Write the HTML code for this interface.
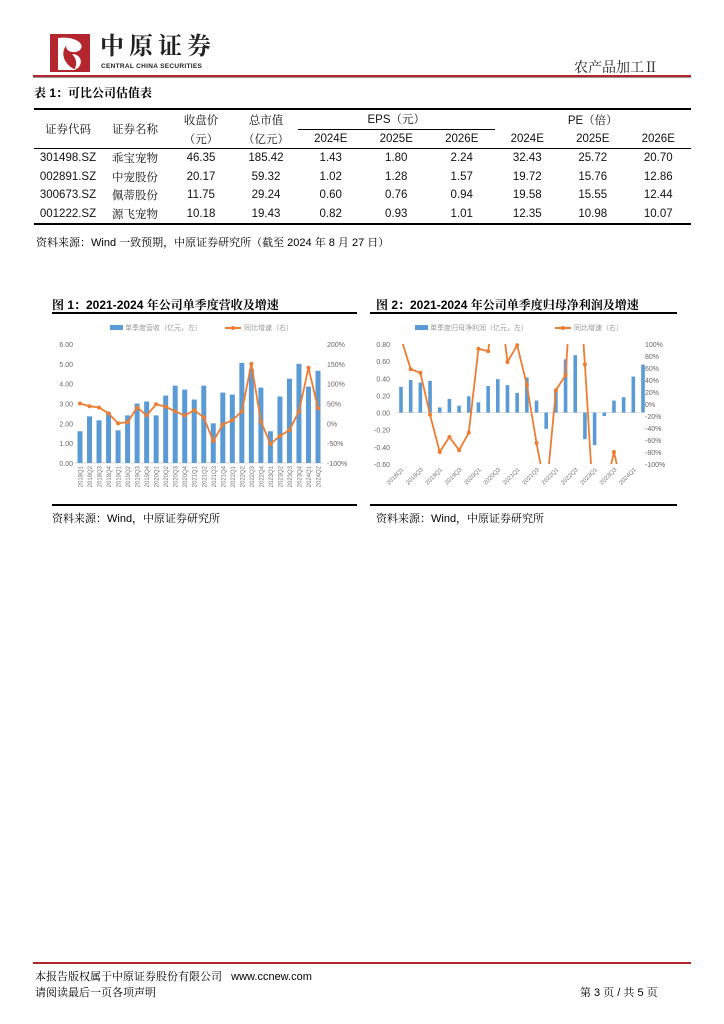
<!DOCTYPE html>
<html><head><meta charset="utf-8">
<style>
body{margin:0;background:#fff;font-family:"Liberation Sans","Noto Serif CJK SC","Noto Sans CJK SC",sans-serif;}
#page{position:relative;width:724px;height:1024px;overflow:hidden;background:#fff;}
.a{position:absolute;white-space:nowrap;}
.cjk{font-family:"Liberation Sans","Noto Serif CJK SC",serif;}
table{border-collapse:collapse;}
td{font-size:11.5px;color:#111;text-align:center;padding:0;height:18.5px;}
</style></head><body>
<div id="page">
<svg class="a" style="left:50px;top:34px" width="40" height="38">
<rect x="0" y="0" width="40" height="38" fill="#b3262e"/>
<path d="M8 4 C25 2 36 10 30 16 C22 22 12 14 18 10 C10 16 12 30 26 36 L8 36 Z" fill="#fff"/>
<path d="M22 20 C30 20 34 28 28 34 L24 36 C28 30 26 24 22 20Z" fill="#fff"/>
</svg>
<div class="a cjk" style="left:100px;top:33px;font-size:24px;font-weight:bold;letter-spacing:5px;color:#222;line-height:28px">中原证券</div>
<div class="a" style="left:101px;top:63px;font-size:6.5px;font-weight:bold;color:#222;letter-spacing:0.3px">CENTRAL CHINA SECURITIES</div>
<div class="a cjk" style="left:574px;top:57px;font-size:14px;color:#222">农产品加工Ⅱ</div>
<div class="a" style="left:33px;top:75px;width:658px;height:2px;background:#b3262e"></div>
<div class="a" style="left:33px;top:77px;width:658px;height:1px;background:#999"></div>

<div class="a cjk" style="left:34px;top:84px;font-size:12px;font-weight:bold">表 1：可比公司估值表</div>
<table class="a" style="left:34px;top:108px;width:657px;border-top:2px solid #000;border-bottom:2px solid #000">
<tr><td rowspan="2" class="cjk" style="width:68px">证券代码</td><td rowspan="2" class="cjk" style="width:66px">证券名称</td><td class="cjk" style="width:66px">收盘价</td><td class="cjk" style="width:64px">总市值</td><td colspan="3" style="border-bottom:1px solid #000">EPS（元）</td><td colspan="3">PE（倍）</td></tr>
<tr style="border-bottom:1px solid #000"><td class="cjk">（元）</td><td class="cjk">（亿元）</td><td>2024E</td><td>2025E</td><td>2026E</td><td>2024E</td><td>2025E</td><td>2026E</td></tr>
<tr><td>301498.SZ</td><td class="cjk">乖宝宠物</td><td>46.35</td><td>185.42</td><td>1.43</td><td>1.80</td><td>2.24</td><td>32.43</td><td>25.72</td><td>20.70</td></tr>
<tr><td>002891.SZ</td><td class="cjk">中宠股份</td><td>20.17</td><td>59.32</td><td>1.02</td><td>1.28</td><td>1.57</td><td>19.72</td><td>15.76</td><td>12.86</td></tr>
<tr><td>300673.SZ</td><td class="cjk">佩蒂股份</td><td>11.75</td><td>29.24</td><td>0.60</td><td>0.76</td><td>0.94</td><td>19.58</td><td>15.55</td><td>12.44</td></tr>
<tr><td>001222.SZ</td><td class="cjk">源飞宠物</td><td>10.18</td><td>19.43</td><td>0.82</td><td>0.93</td><td>1.01</td><td>12.35</td><td>10.98</td><td>10.07</td></tr>
</table>
<div class="a cjk" style="left:36px;top:234px;font-size:11px">资料来源：Wind 一致预期，中原证券研究所（截至 2024 年 8 月 27 日）</div>

<div class="a cjk" style="left:52px;top:296px;font-size:12px;font-weight:bold">图 1：2021-2024 年公司单季度营收及增速</div>
<div class="a cjk" style="left:376px;top:296px;font-size:12px;font-weight:bold">图 2：2021-2024 年公司单季度归母净利润及增速</div>

<svg id="c1" class="a" style="left:0;top:0" width="724" height="1024"></svg>

<div class="a cjk" style="left:52px;top:510px;font-size:11px">资料来源：Wind，中原证券研究所</div>
<div class="a cjk" style="left:376px;top:510px;font-size:11px">资料来源：Wind，中原证券研究所</div>

<div class="a" style="left:33px;top:962px;width:658px;height:2px;background:#b3262e"></div>
<div class="a cjk" style="left:35px;top:968px;font-size:11px">本报告版权属于中原证券股份有限公司 &nbsp; www.ccnew.com</div>
<div class="a cjk" style="left:35px;top:984px;font-size:11px">请阅读最后一页各项声明</div>
<div class="a cjk" style="left:580px;top:984px;font-size:11px">第 3 页 / 共 5 页</div>
</div>
<script>
const cats=["2018Q1","2018Q2","2018Q3","2018Q4","2019Q1","2019Q2","2019Q3","2019Q4","2020Q1","2020Q2","2020Q3","2020Q4","2021Q1","2021Q2","2021Q3","2021Q4","2022Q1","2022Q2","2022Q3","2022Q4","2023Q1","2023Q2","2023Q3","2023Q4","2024Q1","2024Q2"];
const revenue=[1.6,2.35,2.15,2.55,1.65,2.4,3.0,3.1,2.4,3.4,3.9,3.7,3.2,3.9,2.0,3.55,3.45,5.05,4.75,3.8,1.6,3.35,4.25,5.0,3.85,4.65];
const revGrowth=[50,43,40,25,0,3,40,20,48,42,30,20,33,15,-45,-3,8,30,150,5,-52,-32,-17,30,140,38];
const leftTicks1=["0.00","1.00","2.00","3.00","4.00","5.00","6.00"];
const rightTicks1=["-100%","-50%","0%","50%","100%","150%","200%"];
const profit=[0.30,0.38,0.35,0.37,0.06,0.16,0.08,0.19,0.12,0.31,0.39,0.32,0.23,0.41,0.14,-0.19,0.28,0.62,0.67,-0.31,-0.38,-0.04,0.14,0.18,0.42,0.56];
const profGrowth=[110,58,52,-18,-80,-55,-77,-48,92,88,200,70,98,32,-65,-150,23,48,300,66,-200,-150,-80,-150,null,null];
const leftTicks2=["-0.60","-0.40","-0.20","0.00","0.20","0.40","0.60","0.80"];
const rightTicks2=["-100%","-80%","-60%","-40%","-20%","0%","20%","40%","60%","80%","100%"];

const NS="http://www.w3.org/2000/svg";
const svg=document.getElementById('c1');
function mk(t,at,parent){const e=document.createElementNS(NS,t);for(const k in at)e.setAttribute(k,at[k]);(parent||svg).appendChild(e);return e;}
const BLUE="#5b9bd5",ORG="#ed7d31";

const defs=mk('defs',{});
const cp=mk('clipPath',{id:'clip2'},defs);mk('rect',{x:385,y:344,width:290,height:120},cp);

function frame(x0,x1,title){
  let l=mk('line',{x1:x0,x2:x1,y1:313,y2:313,stroke:'#000','stroke-width':2});
  
  l=mk('line',{x1:x0,x2:x1,y1:505,y2:505,stroke:'#000','stroke-width':2});
  
}
frame(52,357,'chart1');frame(370,677,'chart2');

function legend(x,label1,x2,label2,n){
  let r=mk('rect',{x:x,y:325,width:13,height:5,fill:BLUE});
  
  let t=mk('text',{x:x+15,y:330,'font-size':7,fill:'#999','font-family':'Noto Sans CJK SC,sans-serif'});t.textContent=label1;
  
  mk('line',{x1:x2,x2:x2+16,y1:328,y2:328,stroke:ORG,'stroke-width':2});
  mk('circle',{cx:x2+8,cy:328,r:2,fill:ORG});
  t=mk('text',{x:x2+19,y:330,'font-size':7,fill:'#999','font-family':'Noto Sans CJK SC,sans-serif'});t.textContent=label2;
  
}
legend(110,'单季度营收（亿元，左）',225,'同比增速（右）','chart1');
legend(415,'单季度归母净利润（亿元，左）',555,'同比增速（右）','chart2');

(function(){
  const y0=463,y6=344,xL=80,xR=318;
  const y=v=>y0-(v/6)*(y0-y6);
  const yr=v=>y0-((v+100)/300)*(y0-y6);
  const x=i=>xL+i*(xR-xL)/(cats.length-1);
  leftTicks1.forEach((t,i)=>{const e=mk('text',{x:73,y:y(i)+3,'font-size':7,fill:'#666','text-anchor':'end'});e.textContent=t;
    });
  rightTicks1.forEach((t,i)=>{const e=mk('text',{x:327,y:yr(-100+i*50)+3,'font-size':7,fill:'#666'});e.textContent=t;
    });
  mk('line',{x1:75,x2:323,y1:y0,y2:y0,stroke:'#ccc','stroke-width':0.7});
  revenue.forEach((v,i)=>{const r=mk('rect',{x:x(i)-2.5,y:y(v),width:5,height:y0-y(v),fill:BLUE});
    });
  const pl=mk('polyline',{points:revGrowth.map((v,i)=>x(i)+','+yr(v)).join(' '),fill:'none',stroke:ORG,'stroke-width':1.8});
  
  revGrowth.forEach((v,i)=>{const c=mk('circle',{cx:x(i),cy:yr(v),r:2,fill:ORG});
    });
  cats.forEach((c,i)=>{const e=mk('text',{transform:`translate(${x(i)+2.5},466) rotate(-90)`,'font-size':6,fill:'#777','text-anchor':'end'});e.textContent=c;
    });
})();

(function(){
  const yTop=344,yBot=464,xL=401,xR=643;
  const y=v=>yBot-((v+0.6)/1.4)*(yBot-yTop);
  const yr=v=>yBot-((v+100)/200)*(yBot-yTop);
  const x=i=>xL+i*(xR-xL)/(cats.length-1);
  leftTicks2.forEach((t,i)=>{const e=mk('text',{x:390,y:y(-0.6+i*0.2)+3,'font-size':7,fill:'#666','text-anchor':'end'});e.textContent=t;
    });
  rightTicks2.forEach((t,i)=>{const e=mk('text',{x:645,y:yr(-100+i*20)+3,'font-size':7,fill:'#666'});e.textContent=t;
    });
  mk('line',{x1:396,x2:640,y1:y(0),y2:y(0),stroke:'#ccc','stroke-width':0.7});
  profit.forEach((v,i)=>{const r=mk('rect',{x:x(i)-1.8,y:Math.min(y(v),y(0)),width:3.6,height:Math.abs(y(v)-y(0)),fill:BLUE});
    });
  const pts=[];profGrowth.forEach((v,i)=>{if(v!==null)pts.push(x(i)+','+yr(v));});
  const pl=mk('polyline',{points:pts.join(' '),fill:'none',stroke:ORG,'stroke-width':1.8,'clip-path':'url(#clip2)'});
  
  profGrowth.forEach((v,i)=>{if(v===null||v>100||v<-100)return;const c=mk('circle',{cx:x(i),cy:yr(v),r:2,fill:ORG});
    });
  cats.forEach((c,i)=>{if(i%2)return;const e=mk('text',{transform:`translate(${x(i)+3},470) rotate(-45)`,'font-size':6,fill:'#777','text-anchor':'end'});e.textContent=c;
    });
})();
</script>
</body></html>
